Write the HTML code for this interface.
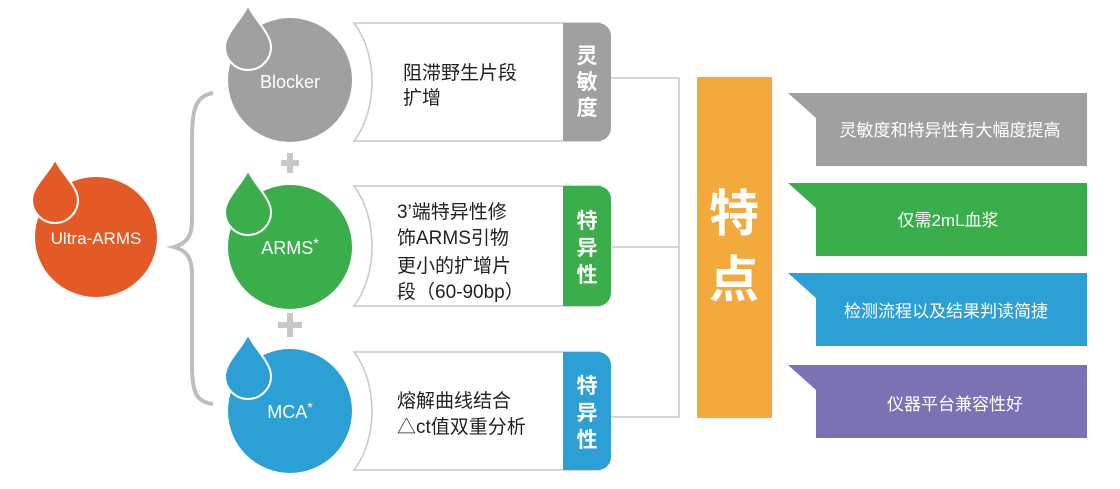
<!DOCTYPE html>
<html><head><meta charset="utf-8"><style>
html,body{margin:0;padding:0;background:#fff;}
svg{display:block;font-family:"Liberation Sans","Noto Sans CJK SC",sans-serif;}
</style></head><body>
<svg width="1120" height="489" viewBox="0 0 1120 489" xmlns="http://www.w3.org/2000/svg">
<g fill="none" stroke="#c8c8c8" stroke-width="1.5">
<path d="M610 78 H679 V417 H610"/>
<path d="M612 247 H679"/>
</g>
<path d="M213 93 C195 96 192 110 192 140 L192 220 C192 238 185 244 174 247 C185 250 192 256 192 274 L192 365 C192 392 196 402 213 404" fill="none" stroke="#bdbdbd" stroke-width="4"/>
<ellipse cx="96" cy="237" rx="61" ry="60" fill="#e45a27"/>
<path d="M55 159 C60 172 78 186 78 200 A23 23 0 1 1 32 200 C32 186 50 172 55 159Z" fill="#e45a27" stroke="#fff" stroke-width="2"/>
<text x="96" y="244" font-size="17" fill="#fff" text-anchor="middle">Ultra-ARMS</text>
<ellipse cx="290" cy="80" rx="62" ry="62" fill="#a0a0a0"/>
<path d="M248 5 C253 18 271 33 271 47 A23 23 0 1 1 225 47 C225 33 243 18 248 5Z" fill="#a0a0a0" stroke="#fff" stroke-width="2"/>
<text x="290" y="88" font-size="18" fill="#fff" text-anchor="middle">Blocker</text>
<g fill="#c8c8c8"><rect x="281" y="160" width="18" height="6"/><rect x="287" y="153" width="6" height="20"/>
<rect x="278" y="322" width="24" height="6"/><rect x="287" y="313" width="6" height="24"/></g>
<ellipse cx="290" cy="247" rx="62" ry="62" fill="#3aae4a"/>
<path d="M248 170 C253 183 271 198 271 212 A23 23 0 1 1 225 212 C225 198 243 183 248 170Z" fill="#3aae4a" stroke="#fff" stroke-width="2"/>
<text x="290" y="254" font-size="18" fill="#fff" text-anchor="middle">ARMS<tspan font-size="14" dy="-6">*</tspan></text>
<ellipse cx="290" cy="411" rx="62" ry="62" fill="#2ca0d5"/>
<path d="M248 334 C253 347 271 362 271 376 A23 23 0 1 1 225 376 C225 362 243 347 248 334Z" fill="#2ca0d5" stroke="#fff" stroke-width="2"/>
<text x="290" y="418" font-size="18" fill="#fff" text-anchor="middle">MCA<tspan font-size="14" dy="-6">*</tspan></text>
<g stroke="#c8c8c8" stroke-width="1.5" fill="#fff">
<path d="M354 23 H600 V141 H354 C378 110 378 54 354 23Z"/>
<path d="M354 186 H600 V306 H354 C378 274 378 218 354 186Z"/>
<path d="M354 352 H600 V470 H354 C378 439 378 383 354 352Z"/>
</g>
<path d="M563 23 H598 A13 13 0 0 1 611 36 V128 A13 13 0 0 1 598 141 H563Z" fill="#a0a0a0"/>
<path d="M563 186 H598 A13 13 0 0 1 611 199 V293 A13 13 0 0 1 598 306 H563Z" fill="#3aae4a"/>
<path d="M563 352 H598 A13 13 0 0 1 611 365 V457 A13 13 0 0 1 598 470 H563Z" fill="#2ca0d5"/>
<g font-size="21" font-weight="bold" fill="#fff" text-anchor="middle">
<text x="587" y="63">灵</text><text x="587" y="89">敏</text><text x="587" y="115">度</text>
<text x="587" y="228">特</text><text x="587" y="255">异</text><text x="587" y="282">性</text>
<text x="587" y="393">特</text><text x="587" y="420">异</text><text x="587" y="447">性</text>
</g>
<g font-size="19" fill="#222">
<text x="403" y="79">阻滞野生片段</text><text x="403" y="104">扩增</text>
<text x="397" y="218">3’端特异性修</text><text x="397" y="244">饰ARMS引物</text>
<text x="397" y="272">更小的扩增片</text><text x="397" y="298">段（60-90bp）</text>
<text x="397" y="407">熔解曲线结合</text><text x="397" y="433">△ct值双重分析</text>
</g>
<rect x="697" y="77" width="75" height="341" fill="#f2aa3c"/>
<g font-size="50" font-weight="bold" fill="#fff" text-anchor="middle">
<text x="734" y="231">特</text><text x="734" y="297">点</text>
</g>
<path d="M788 93 H1087 V166 H816 V118Z" fill="#a0a0a0"/>
<path d="M788 183 H1087 V256 H816 V208Z" fill="#3aae4a"/>
<path d="M788 273 H1087 V346 H816 V298Z" fill="#2ca0d5"/>
<path d="M788 365 H1087 V438 H816 V390Z" fill="#7b72b4"/>
<g font-size="17" fill="#fff" text-anchor="middle">
<text x="950" y="136">灵敏度和特异性有大幅度提高</text>
<text x="948" y="226">仅需2mL血浆</text>
<text x="946" y="317">检测流程以及结果判读简捷</text>
<text x="955" y="410">仪器平台兼容性好</text>
</g>
</svg>
</body></html>
